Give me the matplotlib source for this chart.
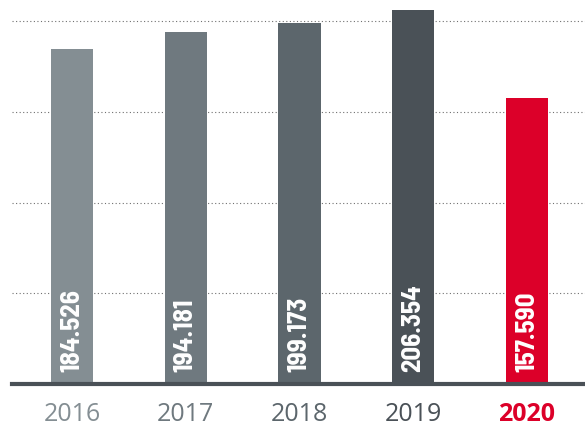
import matplotlib
matplotlib.use("Agg")
import matplotlib.pyplot as plt
import numpy as np

years = ["2016", "2017", "2018", "2019", "2020"]
values = [184.526, 194.181, 199.173, 206.354, 157.590]
bar_colors = ["#848e93", "#6f797f", "#5c666c", "#4a5157", "#dc0029"]
grid_levels = [50, 100, 150, 200]

fig = plt.figure(figsize=(5.85, 4.25), dpi=100)
ax = fig.add_axes([0.0205, 0.0965, 0.9795, 0.9035])

x = np.arange(len(years))
ax.set_xlim(-0.527, 4.51)
ax.set_ylim(0, 211.6)

# dotted guide lines behind the bars
for g in grid_levels:
    ax.axhline(g, color="#707070", lw=0.8, ls=(0, (1, 2.2)), zorder=1)

ax.bar(x, values, width=0.37, color=bar_colors, zorder=2)
ax.axhline(0, color="#4a5157", lw=3, zorder=3, clip_on=False)

for xi, v in zip(x, values):
    ax.text(xi, 6.5, f"{v:.3f}", rotation=90, ha="center", va="bottom",
            color="white", fontsize=19.5, fontweight="bold",
            family=["Barlow Semi Condensed", "Barlow Condensed", "DejaVu Sans"],
            zorder=4)

for i, (xi, yr) in enumerate(zip(x, years)):
    last = i == len(years) - 1
    ax.text(xi, -20.5, yr, ha="center", va="baseline", fontsize=18,
            color=bar_colors[i], fontweight="bold" if last else "normal",
            family=["Open Sans", "DejaVu Sans"], clip_on=False)

ax.axis("off")
fig.savefig("out.png", dpi=100)
